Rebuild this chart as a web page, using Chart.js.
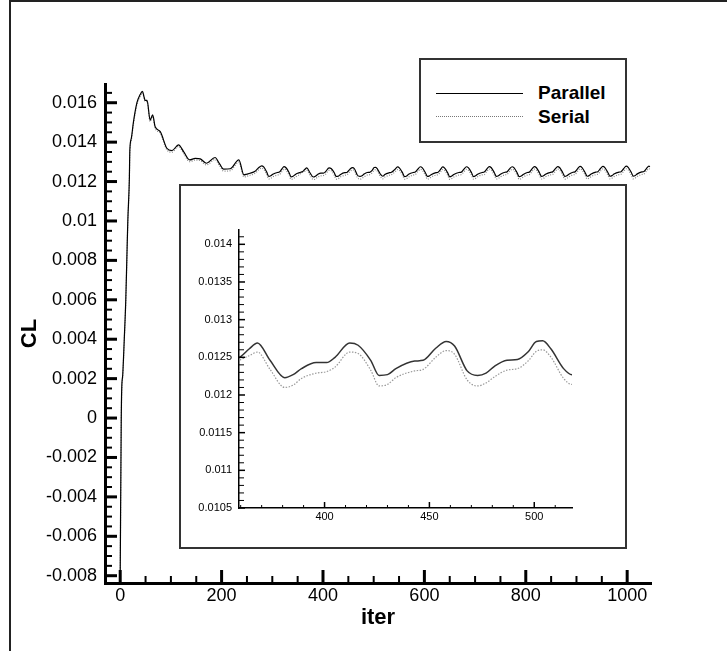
<!DOCTYPE html>
<html>
<head>
<meta charset="utf-8">
<title>CL vs iter</title>
<script src="https://cdn.jsdelivr.net/npm/chart.js@4.4.1/dist/chart.umd.min.js"></script>
<style>
  html, body { margin: 0; padding: 0; background: #fff; }
  body { width: 727px; height: 651px; position: relative; overflow: hidden; font-family: "Liberation Sans", Arial, sans-serif; }
  #main-chart { position: absolute; left: 0; top: 0; }
  .frame { position: absolute; left: 9px; top: 0; width: 718px; height: 651px; border-left: 2px solid #222; border-top: 2px solid #222; box-sizing: border-box; }
  .inset { position: absolute; left: 179px; top: 184px; width: 448px; height: 365px; border: 2px solid #333; box-sizing: border-box; background: #fff; }
  .inset canvas { position: absolute; left: 0; top: 0; }
  .legend { position: absolute; left: 419px; top: 58px; width: 208px; height: 85px; border: 2px solid #333; box-sizing: border-box; background: #fff; }
  .legend .swatch { position: absolute; left: 15px; width: 87px; height: 0; }
  .legend .solid { top: 33px; border-top: 1px solid #000; }
  .legend .dotted { top: 56px; border-top: 1px dotted #777; }
  .legend .label { position: absolute; left: 117px; font: bold 19px "Liberation Sans", Arial, sans-serif; line-height: 19px; color: #000; }
</style>
</head>
<body>
<div class="frame"></div>
<canvas id="main-chart" width="727" height="651"></canvas>
<div class="inset"><canvas id="inset-chart" width="444" height="361"></canvas></div>
<div class="legend">
  <div class="swatch solid"></div><div class="label" id="lab-0" style="top:23px"></div>
  <div class="swatch dotted"></div><div class="label" id="lab-1" style="top:47px"></div>
</div>
<script>
// iteration numbers, one row per oscillation cycle after the start-up
const iters = [
  0, 2, 3, 5, 8, 11, 13, 15, 18, 19,
  22, 26, 33, 39, 44, 47, 49, 53, 59, 64,
  69, 79, 92, 102, 115, 125, 137, 148, 158, 170,
  187, 196, 204, 217, 234, 244, 250, 256, 266, 273,
  279, 283, 289, 293, 297, 301, 310, 314, 319,
  323, 327, 333, 337, 341, 345, 350, 354, 357,
  360, 364, 368, 374, 381, 385, 389, 396, 401, 405,
  412, 416, 422, 426, 430, 434, 443, 447, 453,
  458, 462, 468, 473, 477, 481, 487, 492, 497,
  501, 504, 508, 514, 518, 522, 531, 535, 542,
  547, 551, 557, 561, 565, 569, 578, 582, 587,
  592, 596, 602, 606, 610, 614, 623, 627, 632,
  636, 640, 646, 650, 654, 658, 668, 673, 678,
  683, 687, 693, 697, 701, 705, 714, 718, 723,
  728, 732, 738, 742, 746, 750, 759, 763, 768,
  773, 777, 783, 787, 791, 795, 803, 807, 812,
  817, 821, 827, 831, 835, 839, 849, 853, 858,
  863, 867, 873, 877, 881, 885, 893, 897, 902,
  907, 911, 917, 921, 925, 929, 938, 942, 947,
  952, 956, 962, 966, 970, 974, 984, 988, 993,
  998, 1002, 1008, 1012, 1016, 1020, 1029, 1033, 1038,
  1043, 1045
];

const clParallel = [
  -0.0079, -0.0002, 0.0015, 0.0022, 0.0040, 0.0060, 0.0080, 0.0100, 0.0121, 0.0136,
  0.0142, 0.0150, 0.0160, 0.0164, 0.01658, 0.0163, 0.01612, 0.01612, 0.01512, 0.01538,
  0.01478, 0.01453, 0.01369, 0.01357, 0.01386, 0.01352, 0.0131, 0.01318, 0.01315, 0.01293,
  0.01322, 0.0129, 0.01263, 0.01265, 0.0131, 0.01234, 0.01238, 0.01242, 0.01252, 0.0127,
  0.01280, 0.01274, 0.01248, 0.01226, 0.01229, 0.01237, 0.01246, 0.01248, 0.01264,
  0.01276, 0.01270, 0.01246, 0.01224, 0.01227, 0.01235, 0.01242, 0.01245, 0.01248,
  0.01251, 0.01261, 0.01269, 0.01246, 0.01223, 0.01227, 0.01235, 0.01243, 0.01243, 0.01250,
  0.01269, 0.01266, 0.01246, 0.01226, 0.01227, 0.01235, 0.01245, 0.01246, 0.01262,
  0.01271, 0.01265, 0.01232, 0.01226, 0.01229, 0.01238, 0.01246, 0.01247, 0.01257,
  0.01271, 0.01272, 0.01261, 0.01235, 0.01227, 0.01236, 0.01245, 0.01247, 0.01262,
  0.01274, 0.01268, 0.01244, 0.01225, 0.01228, 0.01237, 0.01246, 0.01248, 0.01263,
  0.01275, 0.01269, 0.01245, 0.01226, 0.01229, 0.01236, 0.01245, 0.01247, 0.01262,
  0.01274, 0.01268, 0.01244, 0.01224, 0.01228, 0.01236, 0.01246, 0.01248, 0.01263,
  0.01275, 0.01269, 0.01245, 0.01225, 0.01229, 0.01237, 0.01246, 0.01248, 0.01263,
  0.01276, 0.01270, 0.01245, 0.01226, 0.01229, 0.01237, 0.01247, 0.01249, 0.01264,
  0.01275, 0.01269, 0.01244, 0.01225, 0.01228, 0.01236, 0.01246, 0.01248, 0.01263,
  0.01276, 0.01270, 0.01245, 0.01226, 0.01229, 0.01237, 0.01247, 0.01249, 0.01264,
  0.01276, 0.01270, 0.01245, 0.01226, 0.01229, 0.01237, 0.01247, 0.01249, 0.01264,
  0.01277, 0.01271, 0.01246, 0.01227, 0.01230, 0.01238, 0.01248, 0.01250, 0.01265,
  0.01277, 0.01271, 0.01246, 0.01227, 0.01230, 0.01238, 0.01248, 0.01250, 0.01265,
  0.01278, 0.01272, 0.01247, 0.01228, 0.01231, 0.01239, 0.01249, 0.01251, 0.01266,
  0.01278, 0.01276
];

const clSerial = [
  -0.0080, -0.0004, 0.0013, 0.0021, 0.0039, 0.0059, 0.0079, 0.0099, 0.0120, 0.0134,
  0.0141, 0.0149, 0.0159, 0.0163, 0.01650, 0.01624, 0.01606, 0.01606, 0.01505, 0.01530,
  0.01470, 0.01445, 0.01361, 0.01349, 0.01378, 0.01343, 0.01301, 0.01309, 0.01306, 0.01284,
  0.01312, 0.01280, 0.01253, 0.01255, 0.01299, 0.01223, 0.01227, 0.01232, 0.01242, 0.01259,
  0.01268, 0.01262, 0.01236, 0.01213, 0.01216, 0.01224, 0.01233, 0.01235, 0.01251,
  0.01263, 0.01258, 0.01233, 0.01211, 0.01214, 0.01222, 0.01230, 0.01236, 0.01243,
  0.01247, 0.01252, 0.01257, 0.01234, 0.01210, 0.01213, 0.01222, 0.01229, 0.01231, 0.01237,
  0.01257, 0.01255, 0.01233, 0.01212, 0.01214, 0.01223, 0.01232, 0.01234, 0.01250,
  0.01259, 0.01254, 0.01220, 0.01212, 0.01216, 0.01224, 0.01233, 0.01235, 0.01245,
  0.01258, 0.01260, 0.01250, 0.01222, 0.01214, 0.01223, 0.01232, 0.01235, 0.01249,
  0.01261, 0.01256, 0.01231, 0.01212, 0.01215, 0.01223, 0.01233, 0.01235, 0.01250,
  0.01262, 0.01257, 0.01232, 0.01212, 0.01216, 0.01224, 0.01233, 0.01235, 0.01249,
  0.01261, 0.01256, 0.01231, 0.01211, 0.01215, 0.01223, 0.01233, 0.01236, 0.01250,
  0.01262, 0.01257, 0.01232, 0.01212, 0.01216, 0.01224, 0.01234, 0.01235, 0.01251,
  0.01263, 0.01258, 0.01232, 0.01213, 0.01216, 0.01224, 0.01234, 0.01236, 0.01251,
  0.01262, 0.01257, 0.01231, 0.01212, 0.01215, 0.01223, 0.01233, 0.01235, 0.01250,
  0.01263, 0.01258, 0.01232, 0.01213, 0.01216, 0.01224, 0.01234, 0.01236, 0.01251,
  0.01263, 0.01257, 0.01232, 0.01212, 0.01216, 0.01224, 0.01234, 0.01236, 0.01251,
  0.01264, 0.01258, 0.01233, 0.01213, 0.01217, 0.01225, 0.01235, 0.01237, 0.01252,
  0.01264, 0.01258, 0.01233, 0.01214, 0.01217, 0.01225, 0.01235, 0.01237, 0.01252,
  0.01265, 0.01259, 0.01234, 0.01214, 0.01218, 0.01226, 0.01236, 0.01238, 0.01253,
  0.01265, 0.01264
];

const seriesNames = ['Parallel', 'Serial'];
const mainXTicks = [0, 200, 400, 600, 800, 1000];
const mainYTicks = [-0.008, -0.006, -0.004, -0.002, 0, 0.002, 0.004, 0.006, 0.008, 0.01, 0.012, 0.014, 0.016];
const insetXTicks = [400, 450, 500];
const insetYTicks = [0.0105, 0.011, 0.0115, 0.012, 0.0125, 0.013, 0.0135, 0.014];

Chart.defaults.font.family = '"Liberation Sans", Arial, sans-serif';
Chart.defaults.color = '#000';

const points = vals => iters.map((it, i) => ({ x: it, y: vals[i] }));
const fmt = v => String(parseFloat(v.toFixed(5)));

// inward major / minor tick marks, placed through the chart's own scales
const tickMarks = {
  id: 'tickMarks',
  afterDraw(chart, args, o) {
    const { ctx, chartArea: a, scales: { x, y } } = chart;
    const isMajor = (s, v, step) => s.ticks.some(t => Math.abs(t.value - v) < step / 10);
    ctx.save();
    ctx.strokeStyle = o.color;
    for (let k = Math.ceil(x.min / o.xStep); k * o.xStep <= x.max; k++) {
      const v = k * o.xStep, major = isMajor(x, v, o.xStep);
      const px = x.getPixelForValue(v);
      ctx.lineWidth = major ? o.majorWidth : o.minorWidth;
      ctx.beginPath();
      ctx.moveTo(px, a.bottom);
      ctx.lineTo(px, a.bottom - (major ? o.xMajor : o.xMinor));
      ctx.stroke();
    }
    for (let k = Math.ceil(y.min / o.yStep - 1e-6); k * o.yStep <= y.max + 1e-9; k++) {
      const v = k * o.yStep, major = isMajor(y, v, o.yStep);
      const py = y.getPixelForValue(v);
      ctx.lineWidth = major ? o.majorWidth : o.minorWidth;
      ctx.beginPath();
      ctx.moveTo(a.left, py);
      ctx.lineTo(a.left + (major ? o.yMajor : o.yMinor), py);
      ctx.stroke();
    }
    ctx.restore();
  }
};

new Chart(document.getElementById('main-chart'), {
  type: 'line',
  data: {
    datasets: [
      { label: seriesNames[0], data: points(clParallel), borderColor: '#000', borderWidth: 1.2, pointRadius: 0, cubicInterpolationMode: 'monotone', order: 0 },
      { label: seriesNames[1], data: points(clSerial), borderColor: '#888', borderWidth: 1.2, borderDash: [1, 1.5], pointRadius: 0, cubicInterpolationMode: 'monotone', order: 1 }
    ]
  },
  options: {
    responsive: false,
    animation: false,
    devicePixelRatio: 1,
    layout: { padding: { top: 84, right: 76, bottom: 8, left: 0 } },
    plugins: {
      legend: { display: false },
      tooltip: { enabled: false },
      tickMarks: { color: '#000', xStep: 50, yStep: 0.0005, xMajor: 13, xMinor: 7, yMajor: 12, yMinor: 7, majorWidth: 3, minorWidth: 2 }
    },
    scales: {
      x: {
        type: 'linear', min: -30, max: 1047,
        afterFit: s => { s.height = 60; },
        afterBuildTicks: s => { s.ticks = mainXTicks.map(v => ({ value: v })); },
        grid: { display: false, drawTicks: false },
        border: { display: true, color: '#000', width: 3 },
        ticks: { padding: 2, font: { size: 18 }, callback: v => fmt(v), maxRotation: 0 },
        title: { display: true, text: 'iter', font: { size: 22, weight: 'bold' }, padding: { top: 0, bottom: 12 } }
      },
      y: {
        type: 'linear', min: -0.00837, max: 0.01695,
        afterFit: s => { s.width = 105; },
        afterBuildTicks: s => { s.ticks = mainYTicks.map(v => ({ value: v })); },
        grid: { display: false, drawTicks: false },
        border: { display: true, color: '#000', width: 3 },
        ticks: { padding: 8, font: { size: 18 }, callback: v => fmt(v) },
        title: { display: true, text: 'CL', font: { size: 22, weight: 'bold' }, padding: { top: 17, bottom: 0 } }
      }
    }
  },
  plugins: [tickMarks]
});

new Chart(document.getElementById('inset-chart'), {
  type: 'line',
  data: {
    datasets: [
      { label: seriesNames[0], data: points(clParallel), borderColor: '#333', borderWidth: 1.5, pointRadius: 0, cubicInterpolationMode: 'monotone', order: 0 },
      { label: seriesNames[1], data: points(clSerial), borderColor: '#999', borderWidth: 1.2, borderDash: [1.5, 1.5], pointRadius: 0, cubicInterpolationMode: 'monotone', order: 1 }
    ]
  },
  options: {
    responsive: false,
    animation: false,
    devicePixelRatio: 1,
    layout: { padding: { top: 44, right: 53, bottom: 19, left: 0 } },
    plugins: {
      legend: { display: false },
      tooltip: { enabled: false },
      tickMarks: { color: '#000', xStep: 10, yStep: 0.0001, xMajor: 6, xMinor: 3, yMajor: 6, yMinor: 5, majorWidth: 1.5, minorWidth: 1 }
    },
    scales: {
      x: {
        type: 'linear', min: 359.2, max: 518,
        afterFit: s => { s.height = 20; },
        afterBuildTicks: s => { s.ticks = insetXTicks.map(v => ({ value: v })); },
        grid: { display: false, drawTicks: false },
        border: { display: true, color: '#000', width: 1.5 },
        ticks: { padding: 2, font: { size: 11 }, callback: v => fmt(v), maxRotation: 0 }
      },
      y: {
        type: 'linear', min: 0.0105, max: 0.01419,
        afterFit: s => { s.width = 58; },
        afterBuildTicks: s => { s.ticks = insetYTicks.map(v => ({ value: v })); },
        grid: { display: false, drawTicks: false },
        border: { display: true, color: '#000', width: 1.5 },
        ticks: { padding: 7, font: { size: 11 }, callback: v => fmt(v) }
      }
    }
  },
  plugins: [tickMarks]
});

document.getElementById('lab-0').textContent = seriesNames[0];
document.getElementById('lab-1').textContent = seriesNames[1];
</script>
</body>
</html>
